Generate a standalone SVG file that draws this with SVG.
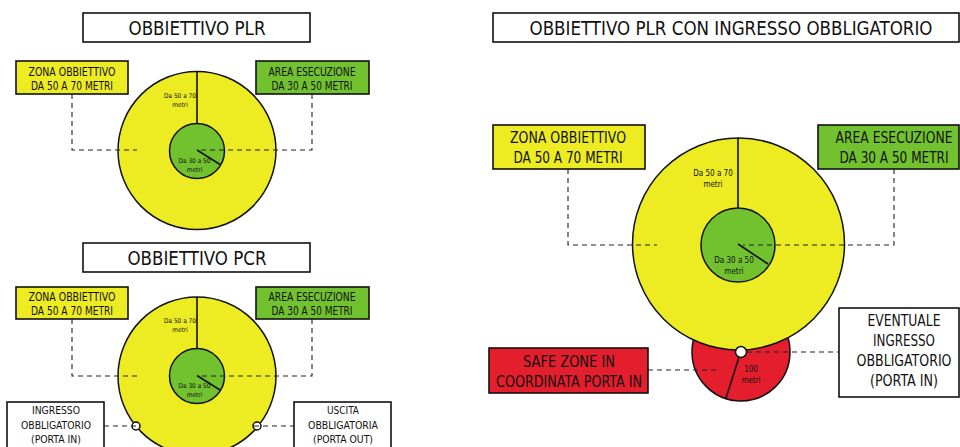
<svg xmlns="http://www.w3.org/2000/svg" width="960" height="447" viewBox="0 0 960 447">
<style>
text{font-family:"Liberation Sans Narrow","DejaVu Sans Condensed","Liberation Sans",sans-serif;fill:#111;text-anchor:middle}
.box{stroke:#111;stroke-width:1.6}
.w{fill:#fff}.y{fill:#EDEC23}.g{fill:#72C12F}.r{fill:#E41E2D}
.c{stroke:#111;stroke-width:1.5}
.ln{stroke:#111;stroke-width:1.6;fill:none}
.d{stroke:#222;stroke-width:1.1;fill:none;stroke-dasharray:5 4}
.t{font-size:20px}.m{font-size:12px}.s{font-size:6.5px}.L{font-size:16px}.sm{font-size:8px}.p{font-size:11px}
</style>
<rect width="960" height="447" fill="#fff"/>
<g id="plr-title"><rect class="box w" x="83" y="13" width="227" height="29"/><text class="t" x="197" y="35" textLength="137" lengthAdjust="spacingAndGlyphs">OBBIETTIVO PLR</text></g>
<g id="plr-zona"><rect class="box y" x="16" y="61" width="112" height="33"/><text class="m" x="72" y="76" textLength="87" lengthAdjust="spacingAndGlyphs">ZONA OBBIETTIVO</text><text class="m" x="72" y="90" textLength="82" lengthAdjust="spacingAndGlyphs">DA 50 A 70 METRI</text></g>
<g id="plr-area"><rect class="box g" x="256" y="61" width="113" height="33"/><text class="m" x="312" y="76" textLength="87" lengthAdjust="spacingAndGlyphs">AREA ESECUZIONE</text><text class="m" x="312" y="90" textLength="81" lengthAdjust="spacingAndGlyphs">DA 30 A 50 METRI</text></g>
<g id="plr-target">
<circle class="c y" cx="197" cy="150.5" r="79"/>
<circle class="c g" cx="197" cy="151" r="27.5"/>
<line class="ln" x1="197" y1="72" x2="197" y2="123.5"/>
<line class="ln" x1="197" y1="150" x2="220" y2="164.5"/>
<text class="s" x="180" y="98">Da 50 a 70</text><text class="s" x="180" y="107">metri</text>
<text class="s" x="194.5" y="163">Da 30 a 50</text><text class="s" x="194.5" y="172">metri</text>
</g>
<g id="pcr-title"><rect class="box w" x="83" y="243" width="227" height="29"/><text class="t" x="197" y="265" textLength="139" lengthAdjust="spacingAndGlyphs">OBBIETTIVO PCR</text></g>
<g id="pcr-zona"><rect class="box y" x="16" y="287" width="112" height="32"/><text class="m" x="72" y="301" textLength="87" lengthAdjust="spacingAndGlyphs">ZONA OBBIETTIVO</text><text class="m" x="72" y="315" textLength="82" lengthAdjust="spacingAndGlyphs">DA 50 A 70 METRI</text></g>
<g id="pcr-area"><rect class="box g" x="256" y="287" width="113" height="32"/><text class="m" x="312" y="301" textLength="87" lengthAdjust="spacingAndGlyphs">AREA ESECUZIONE</text><text class="m" x="312" y="315" textLength="81" lengthAdjust="spacingAndGlyphs">DA 30 A 50 METRI</text></g>
<g id="pcr-target">
<circle class="c y" cx="197" cy="376" r="79"/>
<circle class="c g" cx="197" cy="376" r="27.5"/>
<line class="ln" x1="197" y1="297" x2="197" y2="348.5"/>
<line class="ln" x1="197" y1="375.5" x2="220" y2="390"/>
<text class="s" x="180" y="323">Da 50 a 70</text><text class="s" x="180" y="332">metri</text>
<text class="s" x="194.5" y="388">Da 30 a 50</text><text class="s" x="194.5" y="397">metri</text>
</g>
<g id="pcr-port-in"><circle class="c w" cx="136" cy="426" r="4" stroke-width="1.2"/></g>
<g id="pcr-port-out"><circle class="c w" cx="257" cy="426" r="4" stroke-width="1.2"/></g>
<g id="pcr-ingresso"><rect class="box w" x="7" y="402" width="97" height="60"/><text class="p" x="56" y="414" textLength="48" lengthAdjust="spacingAndGlyphs">INGRESSO</text><text class="p" x="56" y="429" textLength="70" lengthAdjust="spacingAndGlyphs">OBBLIGATORIO</text><text class="p" x="56" y="443" textLength="50" lengthAdjust="spacingAndGlyphs">(PORTA IN)</text></g>
<g id="pcr-uscita"><rect class="box w" x="294" y="402" width="97" height="60"/><text class="p" x="343" y="414" textLength="32" lengthAdjust="spacingAndGlyphs">USCITA</text><text class="p" x="343" y="429" textLength="70" lengthAdjust="spacingAndGlyphs">OBBLIGATORIA</text><text class="p" x="343" y="443" textLength="60" lengthAdjust="spacingAndGlyphs">(PORTA OUT)</text></g>
<g id="ing-title"><rect class="box w" x="493" y="13" width="466" height="29"/><text class="t" x="731" y="35" textLength="403" lengthAdjust="spacingAndGlyphs">OBBIETTIVO PLR CON INGRESSO OBBLIGATORIO</text></g>
<g id="ing-zona"><rect class="box y" x="493" y="125" width="152" height="44"/><text class="L" x="568" y="143" textLength="116" lengthAdjust="spacingAndGlyphs">ZONA OBBIETTIVO</text><text class="L" x="568" y="163" textLength="109" lengthAdjust="spacingAndGlyphs">DA 50 A 70 METRI</text></g>
<g id="ing-area"><rect class="box g" x="818" y="125" width="141" height="44"/><text class="L" x="894" y="143" textLength="117" lengthAdjust="spacingAndGlyphs">AREA ESECUZIONE</text><text class="L" x="894" y="163" textLength="109" lengthAdjust="spacingAndGlyphs">DA 30 A 50 METRI</text></g>
<g id="ing-safezone">
<circle class="c r" cx="741" cy="352" r="49"/>
<text class="sm" x="751" y="372">100</text><text class="sm" x="751" y="383">metri</text>
</g>
<g id="ing-target">
<circle class="c y" cx="738.5" cy="244" r="106"/>
<circle class="c g" cx="738" cy="245" r="37"/>
<line class="ln" x1="738" y1="138" x2="738" y2="208"/>
<line class="ln" x1="738" y1="244" x2="768" y2="264"/>
<text class="sm" x="713" y="176">Da 50 a 70</text><text class="sm" x="713" y="187">metri</text>
<text class="sm" x="734" y="263">Da 30 a 50</text><text class="sm" x="734" y="274">metri</text>
</g>
<g id="ing-port"><line class="ln" x1="740" y1="354" x2="726" y2="398"/><circle class="c w" cx="741" cy="352" r="5.5" stroke-width="1.2"/></g>
<g id="ing-safe-label"><rect class="box r" x="489" y="348" width="159" height="45"/><text class="L" x="569" y="367" textLength="92" lengthAdjust="spacingAndGlyphs">SAFE ZONE IN</text><text class="L" x="569" y="387" textLength="146" lengthAdjust="spacingAndGlyphs">COORDINATA PORTA IN</text></g>
<g id="ing-eventuale"><rect class="box w" x="839" y="308" width="120" height="89"/><text class="L" x="904" y="326" textLength="73" lengthAdjust="spacingAndGlyphs">EVENTUALE</text><text class="L" x="904" y="346" textLength="62" lengthAdjust="spacingAndGlyphs">INGRESSO</text><text class="L" x="904" y="366" textLength="95" lengthAdjust="spacingAndGlyphs">OBBLIGATORIO</text><text class="L" x="904" y="386" textLength="68" lengthAdjust="spacingAndGlyphs">(PORTA IN)</text></g>
<g id="connectors">
<polyline class="d" points="72,94 72,150 137,150"/>
<polyline class="d" points="312,94 312,150 200,150"/>
<polyline class="d" points="72,319 72,376 137,376"/>
<polyline class="d" points="312,319 312,376 200,376"/>
<line class="d" x1="104" y1="426" x2="139" y2="426"/>
<line class="d" x1="254" y1="426" x2="294" y2="426"/>
<polyline class="d" points="568,169 568,245 657,245"/>
<polyline class="d" points="894,169 894,245 743,245"/>
<line class="d" x1="648" y1="370" x2="717" y2="370"/>
<line class="d" x1="747" y1="352" x2="839" y2="352"/>
</g>
</svg>
